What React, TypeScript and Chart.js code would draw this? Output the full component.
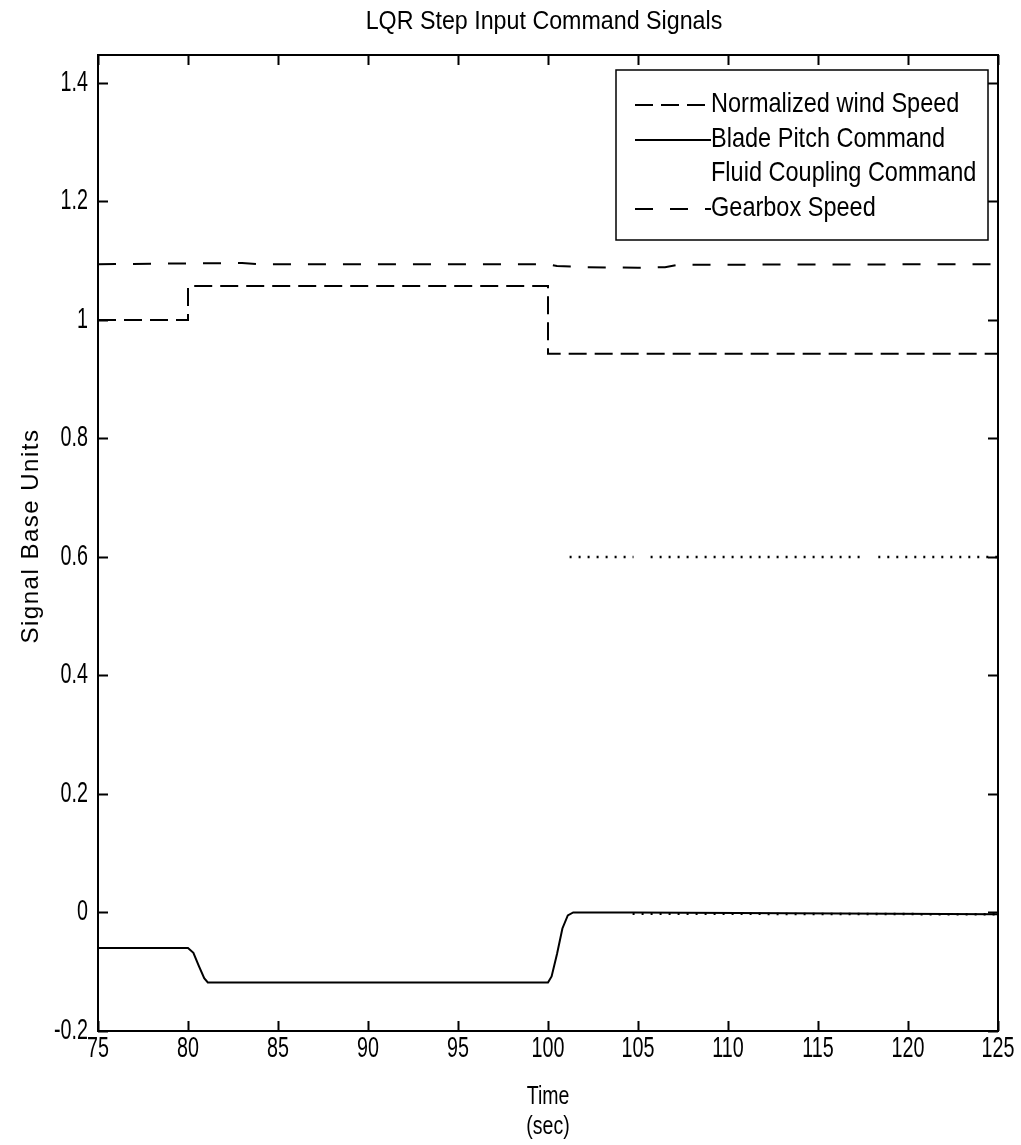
import React, { useEffect, useRef } from "react";
import { Chart, registerables } from "chart.js";

Chart.register(...registerables);

// ---------- text ----------
const chartTitle = "LQR Step Input Command Signals";
const xTitleLines = ["Time", "(sec)"];
const yTitle = "Signal Base Units";
const seriesNames = [
  "Normalized wind Speed",
  "Blade Pitch Command",
  "Fluid Coupling Command",
  "Gearbox Speed",
];

// ---------- axes ----------
const xMin = 75;
const xMax = 125;
const yMin = -0.2;
const yMax = 1.447;
const xTicks = [75, 80, 85, 90, 95, 100, 105, 110, 115, 120, 125];
const xTickLabels = ["75", "80", "85", "90", "95", "100", "105", "110", "115", "120", "125"];
const yTicks = [-0.2, 0, 0.2, 0.4, 0.6, 0.8, 1, 1.2, 1.4];
const yTickLabels = ["-0.2", "0", "0.2", "0.4", "0.6", "0.8", "1", "1.2", "1.4"];

// ---------- data ----------
const windTime = [75, 80, 80, 100, 100, 125];
const windValue = [1.0, 1.0, 1.057, 1.057, 0.943, 0.943];

const pitchTime = [75, 80, 80.3, 80.6, 80.9, 81.1, 100, 100.2, 100.5, 100.8, 101.1, 101.4, 104.7, 125];
const pitchValue = [-0.06, -0.06, -0.068, -0.09, -0.111, -0.118, -0.118, -0.108, -0.07, -0.027, -0.005, 0, 0, -0.003];

const couplingTime = [101.2, 104.75, 105.2, 105.7, 117.5, 117.9, 118.35, 125];
const couplingValue = [0.6, 0.6, null, 0.6, 0.6, null, 0.6, 0.6];

const couplingLowTime = [104.7, 125];
const couplingLowValue = [-0.002, -0.003];

const gearTime = [75, 83, 84, 100, 100.5, 102, 105, 106.5, 107.2, 125];
const gearValue = [1.094, 1.096, 1.094, 1.094, 1.091, 1.089, 1.088, 1.089, 1.093, 1.094];

const SANS = "'Liberation Sans', Arial, sans-serif";

const pts = (t: number[], v: (number | null)[]) => t.map((x, i) => ({ x, y: v[i] }));

const windDash = [18, 8];
const gearDash = [18, 17];
const dotDash = [2, 7];

// narrow text emulation (horizontally compressed Liberation Sans)
function narrowText(ctx: any, text: string, x: number, y: number, size: number, sx: number, align: string) {
  ctx.save();
  ctx.translate(x, y);
  ctx.scale(sx, 1);
  ctx.font = `${size}px ${SANS}`;
  ctx.textAlign = align;
  ctx.textBaseline = "middle";
  ctx.fillStyle = "#000";
  ctx.fillText(text, 0, 0);
  ctx.restore();
}

const overlayPlugin = {
  id: "overlay",
  afterDatasetsDraw(chart: any) {
    const { ctx, chartArea: a, scales } = chart;
    ctx.save();
    ctx.strokeStyle = "#000";
    ctx.fillStyle = "#000";
    ctx.setLineDash([]);
    ctx.lineWidth = 2;
    ctx.strokeRect(a.left, a.top, a.right - a.left, a.bottom - a.top);
    const tl = 10;
    ctx.beginPath();
    for (const v of xTicks) {
      const px = Math.round(scales.x.getPixelForValue(v)) + 0.5;
      ctx.moveTo(px, a.bottom);
      ctx.lineTo(px, a.bottom - tl);
      ctx.moveTo(px, a.top);
      ctx.lineTo(px, a.top + tl);
    }
    for (const v of yTicks) {
      const py = Math.round(scales.y.getPixelForValue(v)) + 0.5;
      ctx.moveTo(a.left, py);
      ctx.lineTo(a.left + tl, py);
      ctx.moveTo(a.right, py);
      ctx.lineTo(a.right - tl, py);
    }
    ctx.stroke();

    // tick labels, positioned by the chart's scales
    xTicks.forEach((v, i) => {
      narrowText(ctx, xTickLabels[i], scales.x.getPixelForValue(v), a.bottom + 18, 29, 0.68, "center");
    });
    yTicks.forEach((v, i) => {
      narrowText(ctx, yTickLabels[i], a.left - 10, scales.y.getPixelForValue(v), 29, 0.68, "right");
    });

    // legend
    const bx = a.right - 382;
    const by = a.top + 15;
    const bw = 372;
    const bh = 170;
    ctx.fillStyle = "#fff";
    ctx.fillRect(bx, by, bw, bh);
    ctx.lineWidth = 1.5;
    ctx.strokeRect(bx, by, bw, bh);
    const rows = [34, 69, 103, 138];
    const dashes = [windDash, [], dotDash, gearDash];
    for (let i = 0; i < 4; i++) {
      const y = by + rows[i];
      if (i !== 2) {
        ctx.beginPath();
        ctx.setLineDash(dashes[i]);
        ctx.lineWidth = 2;
        ctx.moveTo(bx + 19, y + 1);
        ctx.lineTo(bx + 95, y + 1);
        ctx.stroke();
      }
      ctx.setLineDash([]);
      narrowText(ctx, seriesNames[i], bx + 95, y, 28, 0.84, "left");
    }

    // titles
    const cx = (a.left + a.right) / 2;
    narrowText(ctx, chartTitle, cx - 4, 22, 25, 0.93, "center");
    narrowText(ctx, xTitleLines[0], cx, 1097, 26, 0.75, "center");
    narrowText(ctx, xTitleLines[1], cx, 1127, 26, 0.75, "center");
    ctx.save();
    ctx.translate(31, 536);
    ctx.rotate(-Math.PI / 2);
    ctx.font = `24px ${SANS}`;
    (ctx as any).letterSpacing = "1.5px";
    ctx.textAlign = "center";
    ctx.textBaseline = "middle";
    ctx.fillStyle = "#000";
    ctx.fillText(yTitle, 0, 0);
    ctx.restore();
    ctx.restore();
  },
};

export default function App() {
  const ref = useRef<HTMLCanvasElement | null>(null);
  useEffect(() => {
    if (!ref.current) return;
    const lineBase = { borderColor: "#000", borderWidth: 2, pointRadius: 0, tension: 0, fill: false, spanGaps: false };
    const chart = new Chart(ref.current, {
      type: "line",
      data: {
        datasets: [
          { ...lineBase, label: seriesNames[0], data: pts(windTime, windValue), borderDash: windDash },
          { ...lineBase, label: seriesNames[1], data: pts(pitchTime, pitchValue) },
          { ...lineBase, label: seriesNames[2], data: pts(couplingTime, couplingValue), borderDash: dotDash, borderWidth: 2.5, borderCapStyle: "butt" },
          { ...lineBase, label: "", data: pts(couplingLowTime, couplingLowValue), borderDash: dotDash, borderWidth: 2.5 },
          { ...lineBase, label: seriesNames[3], data: pts(gearTime, gearValue), borderDash: gearDash },
        ] as any,
      },
      options: {
        responsive: false,
        animation: false,
        devicePixelRatio: 1,
        layout: { padding: { left: 0, right: 23, top: 55, bottom: 0 } },
        plugins: { legend: { display: false }, tooltip: { enabled: false }, title: { display: false } },
        scales: {
          x: {
            type: "linear",
            min: xMin,
            max: xMax,
            afterBuildTicks: (axis: any) => {
              axis.ticks = xTicks.map((v) => ({ value: v }));
            },
            afterFit: (s: any) => {
              s.height = 114;
              s.paddingLeft = 0;
              s.paddingRight = 0;
            },
            grid: { display: false, drawTicks: false },
            border: { display: true, color: "#000", width: 2 },
            ticks: { display: false },
          },
          y: {
            type: "linear",
            min: yMin,
            max: yMax,
            afterBuildTicks: (axis: any) => {
              axis.ticks = yTicks.map((v) => ({ value: v }));
            },
            afterFit: (s: any) => {
              s.width = 98;
              s.paddingTop = 0;
              s.paddingBottom = 0;
            },
            grid: { display: false, drawTicks: false },
            border: { display: true, color: "#000", width: 2 },
            ticks: { display: false },
          },
        },
      },
      plugins: [overlayPlugin],
    } as any);
    return () => chart.destroy();
  }, []);
  return (
    <div style={{ position: "absolute", left: 0, top: 0, width: 1021, height: 1145, background: "#fff" }}>
      <canvas ref={ref} width={1021} height={1145} />
    </div>
  );
}
